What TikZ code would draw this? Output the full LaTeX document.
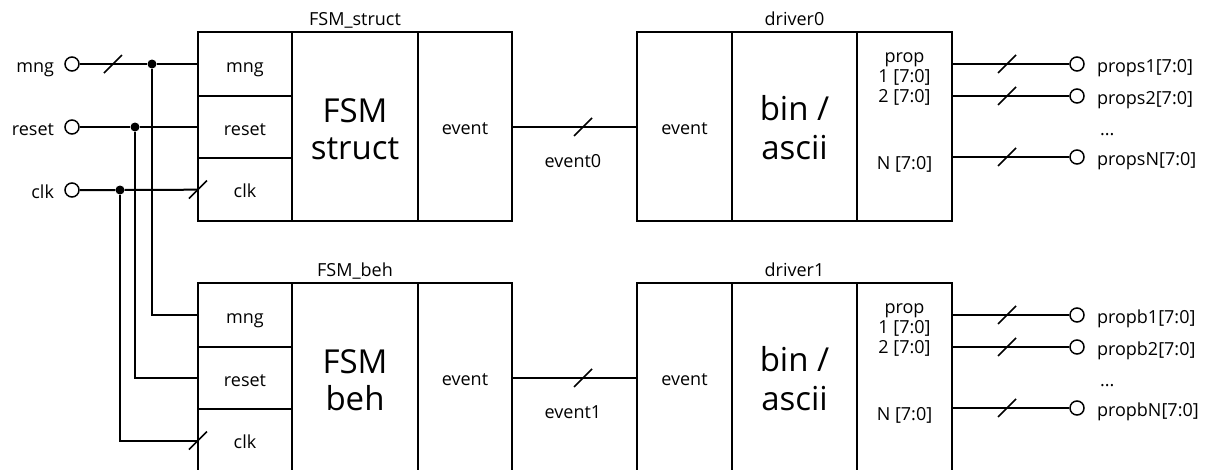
\documentclass[tikz,border=0pt]{standalone}
\usepackage{fontspec}
\setmainfont{Open Sans}
\newcommand\smallfs{\fontsize{18}{20}\selectfont}
\newcommand\bigfs{\fontsize{33}{37}\selectfont}
\begin{document}
\begin{tikzpicture}[x=1pt,y=-1pt,
  box/.style={draw, line width=1.5pt, inner sep=0pt, outer sep=0pt, anchor=north west, font=\smallfs, text height=16.5pt, text depth=0.5pt},
  lbl/.style={inner sep=0pt, outer sep=0pt, font=\smallfs},
  big/.style={inner sep=0pt, font=\bigfs, anchor=base},
  wire/.style={line width=2pt},
  port/.style={circle, draw, fill=white, line width=1.5pt, minimum size=14pt, inner sep=0pt},
  junc/.style={circle, fill, minimum size=9pt, inner sep=0pt},
  busmark/.pic={\draw[line width=1.5pt] (-9,9) -- (9,-9);}
]
\useasboundingbox (0,0) rectangle (1205,469);
\clip (0,0) rectangle (1205,469);

% inputs
\node[port] (imng) at (72,64) {};
\node[port] (irst) at (72,127) {};
\node[port] (iclk) at (72,190) {};
\node[lbl, anchor=base east] (limng) at (54,72) {mng};
\node[lbl, anchor=base east] (lirst) at (54,135) {reset};
\node[lbl, anchor=base east] (liclk) at (54,198) {clk};

\foreach \r/\dy/\nm/\tx/\ev/\pr in {0/0/FSM\_struct/struct/event0/s, 1/251/FSM\_beh/beh/event1/b} {
 \begin{scope}[yshift=-\dy pt]
  % FSM block
  \node[box, minimum width=94pt, minimum height=64pt] (f\r-m) at (198,32) {mng};
  \node[box, minimum width=94pt, minimum height=62pt] (f\r-r) at (198,96) {reset};
  \node[box, minimum width=94pt, minimum height=63pt] (f\r-c) at (198,158) {clk};
  \node[box, minimum width=126pt, minimum height=189pt] (f\r-core) at (292,32) {};
  \node[box, minimum width=94pt, minimum height=189pt] (f\r-ev) at (418,32) {event};
  \node[lbl, anchor=base] (f\r-name) at (355,25) {\nm};
  \node[big] (f\r-t1) at (355,122) {FSM};
  \node[big] (f\r-t2) at (355,159) {\tx};
  % driver block
  \node[box, minimum width=95pt, minimum height=189pt] (d\r-ev) at (637,32) {event};
  \node[box, minimum width=125pt, minimum height=189pt] (d\r-core) at (732,32) {};
  \node[box, minimum width=95pt, minimum height=189pt] (d\r-p) at (857,32) {};
  \node[lbl, anchor=base] (d\r-name) at (794.5,25) {driver\r};
  \node[big] (d\r-t1) at (794.5,120) {bin /};
  \node[big] (d\r-t2) at (794.5,159) {ascii};
  \node[lbl, anchor=base] (d\r-p0) at (904.5,62) {prop};
  \node[lbl, anchor=base] (d\r-p1) at (904.5,82) {1 [7:0]};
  \node[lbl, anchor=base] (d\r-p2) at (904.5,102) {2 [7:0]};
  \node[lbl, anchor=base] (d\r-pN) at (904.5,169) {N [7:0]};
  % event bus
  \draw[wire] (f\r-ev) -- (d\r-ev);
  \pic at (583,127) {busmark};
  \node[lbl, anchor=base] (e\r) at (573,167) {\ev};
  % outputs
  \node[port] (o\r-1) at (1077,64) {};
  \node[port] (o\r-2) at (1077,96) {};
  \node[port] (o\r-N) at (1077,157) {};
  \draw[wire] (d\r-p.east |- o\r-1) -- (o\r-1);
  \draw[wire] (d\r-p.east |- o\r-2) -- (o\r-2);
  \draw[wire] (d\r-p.east |- o\r-N) -- (o\r-N);
  \pic at (1007,64) {busmark};
  \pic at (1007,96) {busmark};
  \pic at (1007,157) {busmark};
  \node[lbl, anchor=base west] (lo\r-1) at (1097,72) {prop\pr1[7:0]};
  \node[lbl, anchor=base west] (lo\r-2) at (1097,104) {prop\pr2[7:0]};
  \node[lbl, anchor=base west] (lo\r-d) at (1100,135) {...};
  \node[lbl, anchor=base west] (lo\r-N) at (1097,165) {prop\pr N[7:0]};
 \end{scope}
}

% input wiring
\node[junc] (jm) at (152,64) {};
\node[junc] (jr) at (135,127) {};
\node[junc] (jc) at (120,190) {};
\draw[wire] (imng) -- (jm) -- (f0-m);
\draw[wire] (jm) |- (f1-m.west);
\draw[wire] (irst) -- (jr) -- (f0-r);
\draw[wire] (jr) |- (f1-r.west);
\draw[wire] (iclk) -- (jc) -- (f0-c);
\draw[wire] (jc) |- (f1-c.west);
\pic at (113,64) {busmark};
\pic at (f0-c.west) {busmark};
\pic at (f1-c.west) {busmark};
\end{tikzpicture}
\end{document}
